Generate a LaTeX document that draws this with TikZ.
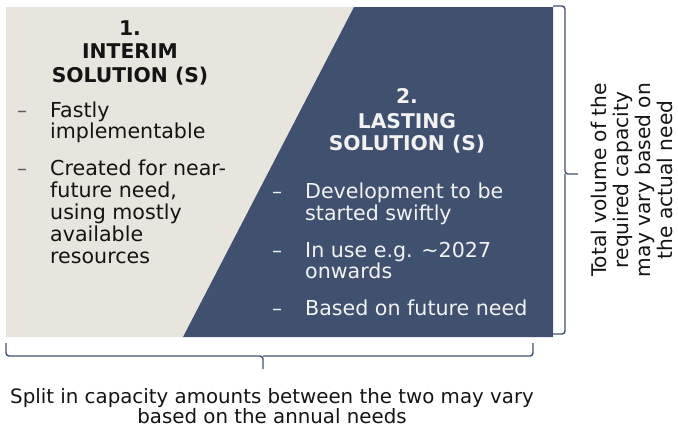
\documentclass[tikz,border=0pt]{standalone}
\usepackage{fontspec}
\setmainfont{DejaVu Sans}
\definecolor{beige}{RGB}{232,229,222}
\definecolor{navy}{RGB}{64,81,112}
\definecolor{txtwhite}{RGB}{242,242,242}
\definecolor{txtdark}{RGB}{20,20,20}
\definecolor{dashgray}{RGB}{90,90,90}
\definecolor{bracecol}{RGB}{64,81,112}
\begin{document}
\begin{tikzpicture}[x=1pt,y=-1pt,
  body/.style={font=\fontsize{20.6}{22}\selectfont, anchor=base west, inner sep=0pt},
  ttl/.style={font=\fontsize{20.3}{23}\bfseries\selectfont, anchor=base, inner sep=0pt},
  dsh/.style={font=\fontsize{20}{20}\selectfont, anchor=base west, inner sep=0pt},
  bracestyle/.style={draw=bracecol, line width=1.4pt, rounded corners=3pt}]
\useasboundingbox (0,0) rectangle (678,429);
% panels
\fill[beige] (6,7) -- (354,7) -- (183,337) -- (6,337) -- cycle;
\fill[navy] (354,7) -- (553,7) -- (553,337) -- (183,337) -- cycle;
% left title
\node[ttl, text=txtdark] (t1a) at (130,35) {1.};
\node[ttl, text=txtdark] (t1b) at (130,58) {INTERIM};
\node[ttl, text=txtdark] (t1c) at (130,82) {SOLUTION (S)};
% left bullets
\node[dsh, text=dashgray] (d1) at (17,117) {–};
\node[body, text=txtdark] (l1) at (50,117) {Fastly};
\node[body, text=txtdark] (l2) at (50,138) {implementable};
\node[dsh, text=dashgray] (d2) at (17,175) {–};
\node[body, text=txtdark] (l3) at (50,175) {Created for near-};
\node[body, text=txtdark] (l4) at (50,197) {future need,};
\node[body, text=txtdark] (l5) at (50,219) {using mostly};
\node[body, text=txtdark] (l6) at (50,241) {available};
\node[body, text=txtdark] (l7) at (50,263) {resources};
% right title
\node[ttl, text=txtwhite] (t2a) at (407,103) {2.};
\node[ttl, text=txtwhite] (t2b) at (407,128) {LASTING};
\node[ttl, text=txtwhite] (t2c) at (407,150) {SOLUTION (S)};
% right bullets
\node[dsh, text=txtwhite] (d3) at (272,198) {–};
\node[body, text=txtwhite] (r1) at (305,198) {Development to be};
\node[body, text=txtwhite] (r2) at (305,220) {started swiftly};
\node[dsh, text=txtwhite] (d4) at (272,257) {–};
\node[body, text=txtwhite] (r3) at (305,257) {In use e.g. \textasciitilde2027};
\node[body, text=txtwhite] (r4) at (305,278) {onwards};
\node[dsh, text=txtwhite] (d5) at (272,315) {–};
\node[body, text=txtwhite] (r5) at (305,315) {Based on future need};
% right brace
\coordinate (rb1) at (553,6);
\coordinate (rb2) at (553,334);
\coordinate (rtip) at (578,174);
\draw[bracestyle] (rb1) -- (565,6) -- (565,174) -- (rtip);
\draw[bracestyle] (rb2) -- (565,334) -- (565,174);
\node[rotate=90, align=center, inner sep=0pt, text=txtdark,
  font=\fontsize{20.2}{22.2}\selectfont] (rtext) at (632,180)
  {Total volume of the\\required capacity\\may vary based on\\the actual need};
% bottom brace
\coordinate (bb1) at (6,343);
\coordinate (bb2) at (533,343);
\coordinate (btip) at (263,369);
\draw[bracestyle] (bb1) -- (6,356) -- (263,356) -- (btip);
\draw[bracestyle] (bb2) -- (533,356) -- (263,356);
\node[inner sep=0pt, text=txtdark, anchor=base,
  font=\fontsize{19.8}{20}\selectfont] (btext) at (272,403)
  {Split in capacity amounts between the two may vary};
\node[inner sep=0pt, text=txtdark, anchor=base,
  font=\fontsize{19.8}{20}\selectfont] (btext2) at (272,423)
  {based on the annual needs};
\end{tikzpicture}
\end{document}
